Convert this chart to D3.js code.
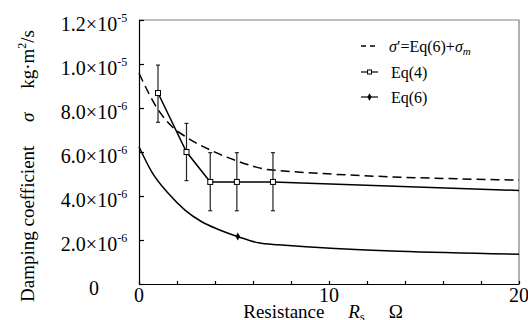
<!DOCTYPE html>
<html>
<head>
<meta charset="utf-8">
<script src="https://cdn.jsdelivr.net/npm/d3@7/dist/d3.min.js"></script>
<style>
  body { margin: 0; background: #fff; }
  svg, svg text { font-family: "Liberation Serif", "DejaVu Serif", serif; }
</style>
</head>
<body>
<svg id="chart"></svg>
<script>
// values in units of 1e-6 kg·m²/s
const yTicks = [0, 2, 4, 6, 8, 10, 12];
const yTickMant = ["0", "2.0", "4.0", "6.0", "8.0", "1.0", "1.2"];
const yTickExp = ["", "-6", "-6", "-6", "-6", "-5", "-5"];
const xTicks = [0, 2, 4, 6, 8, 10, 12, 14, 16, 18, 20];
const xLabels = [0, 10, 20];

// Eq(6) curve
const eq6R = [0, 0.67, 1.54, 2.42, 3.3, 4.18, 5.23, 6.28, 7.33, 20];
const eq6Val = [6.24, 5.1, 4.12, 3.36, 2.83, 2.48, 2.15, 1.87, 1.78, 1.35];
const eq6MarkR = [5.2];
const eq6MarkVal = [2.16];

// sigma' = Eq(6) + sigma_m (dashed)
const sigR = [0, 1, 1.8, 2.5, 3.75, 5.2, 7, 20];
const sigVal = [9.58, 7.93, 7.1, 6.67, 6.09, 5.58, 5.18, 4.72];

// Eq(4) measured, with error bars
const eq4R = [1, 2.5, 3.75, 5.15, 7.05];
const eq4Val = [8.68, 6.0, 4.64, 4.64, 4.64];
const eq4Hi = [9.95, 7.3, 5.97, 5.97, 5.97];
const eq4Lo = [7.35, 4.7, 3.33, 3.33, 3.33];
const eq4EndR = 20, eq4EndVal = 4.25;

const svg = d3.select("#chart").attr("width", 528).attr("height", 320);
const margin = {top: 20, right: 9, bottom: 36, left: 139},
    width = 528 - margin.left - margin.right,
    height = 320 - margin.top - margin.bottom;

const x = d3.scaleLinear().domain([0, 20]).range([margin.left, margin.left + width]);
const y = d3.scaleLinear().domain([0, 12]).range([margin.top + height, margin.top]);

// frame top/right
svg.append("path")
    .attr("d", `M${x(0)},${y(12)}H${x(20)}V${y(0)}`)
    .attr("fill", "none").attr("stroke", "#808080").attr("stroke-width", 1.2);

// axes
svg.append("g")
    .attr("transform", `translate(0,${y(0)})`)
    .call(d3.axisBottom(x).tickValues(xTicks).tickSizeInner(-3).tickSizeOuter(0).tickFormat(""))
    .call(g => g.selectAll("path,line").attr("stroke", "#000").attr("stroke-width", 1.2));

svg.append("g")
    .attr("transform", `translate(${x(0)},0)`)
    .call(d3.axisLeft(y).tickValues(yTicks).tickSizeInner(-5).tickSizeOuter(0).tickFormat(""))
    .call(g => g.selectAll("path,line").attr("stroke", "#000").attr("stroke-width", 1.2));

// y tick labels with superscripts
yTicks.forEach((v, i) => {
    let t = svg.append("text")
        .attr("x", 94).attr("y", y(v) + 11)
        .attr("text-anchor", "middle")
        .attr("font-size", 20);
    if (yTickExp[i] === "") {
        t.text(yTickMant[i]);
    } else {
        t.append("tspan").text(yTickMant[i] + "\u00d7" + "10");
        t.append("tspan").attr("font-size", 12).attr("dy", -9).text(yTickExp[i]);
    }
});

// x tick labels
xLabels.forEach(v => {
    svg.append("text")
        .attr("x", x(v)).attr("y", 302)
        .attr("text-anchor", "middle")
        .attr("font-size", 20)
        .text(v);
});

// axis titles
let xt = svg.append("text")
    .attr("x", 323).attr("y", 318)
    .attr("text-anchor", "middle")
    .attr("font-size", 19);
xt.append("tspan").text("Resistance\u2003 ");
xt.append("tspan").attr("font-style", "italic").text("R");
xt.append("tspan").attr("font-size", 13).attr("dy", 3).text("s");
xt.append("tspan").attr("dy", -3).text("\u2003 \u03a9");

let yt = svg.append("text")
    .attr("transform", "translate(34,166) rotate(-90)")
    .attr("text-anchor", "middle")
    .attr("font-size", 19);
yt.append("tspan").text("Damping coefficient\u2003 ");
yt.append("tspan").attr("font-style", "italic").text("\u03c3");
yt.append("tspan").text("\u2003 kg\u00b7m");
yt.append("tspan").attr("font-size", 12).attr("dy", -8).text("2");
yt.append("tspan").attr("dy", 8).text("/s");

// lines
const eq6Line = d3.line().x((d, i) => x(eq6R[i])).y(d => y(d)).curve(d3.curveMonotoneX);
svg.append("path").datum(eq6Val)
    .attr("fill", "none").attr("stroke", "#000").attr("stroke-width", 1.5)
    .attr("d", eq6Line);

const sigLine = d3.line().x((d, i) => x(sigR[i])).y(d => y(d)).curve(d3.curveMonotoneX);
svg.append("path").datum(sigVal)
    .attr("fill", "none").attr("stroke", "#000").attr("stroke-width", 1.5)
    .attr("stroke-dasharray", "9,5")
    .attr("d", sigLine);

const eq4Pts = eq4R.map((r, i) => [r, eq4Val[i]]).concat([[eq4EndR, eq4EndVal]]);
svg.append("path").datum(eq4Pts)
    .attr("fill", "none").attr("stroke", "#000").attr("stroke-width", 1.5)
    .attr("d", d3.line().x(d => x(d[0])).y(d => y(d[1])));

// error bars
eq4R.forEach((r, i) => {
    let g = svg.append("g").attr("stroke", "#222").attr("stroke-width", 1.2);
    g.append("line").attr("x1", x(r)).attr("x2", x(r)).attr("y1", y(eq4Hi[i])).attr("y2", y(eq4Lo[i]));
    g.append("line").attr("x1", x(r) - 2).attr("x2", x(r) + 2).attr("y1", y(eq4Hi[i])).attr("y2", y(eq4Hi[i]));
    g.append("line").attr("x1", x(r) - 2).attr("x2", x(r) + 2).attr("y1", y(eq4Lo[i])).attr("y2", y(eq4Lo[i]));
});

// markers
svg.selectAll(".sq").data(eq4R).join("rect")
    .attr("x", d => x(d) - 2.5).attr("y", (d, i) => y(eq4Val[i]) - 2.5)
    .attr("width", 5).attr("height", 5)
    .attr("fill", "#fff").attr("stroke", "#000").attr("stroke-width", 1);

svg.selectAll(".dm").data(eq6MarkR).join("path")
    .attr("transform", (d, i) => `translate(${x(d)},${y(eq6MarkVal[i])})`)
    .attr("d", d3.symbol(d3.symbolDiamond, 18))
    .attr("fill", "#000");

// legend
const lg = svg.append("g");
const rows = [46, 72, 97];
lg.append("line").attr("x1", 361).attr("x2", 378).attr("y1", rows[0]).attr("y2", rows[0])
    .attr("stroke", "#000").attr("stroke-width", 1.5).attr("stroke-dasharray", "5,4");
lg.append("line").attr("x1", 361).attr("x2", 378).attr("y1", rows[1]).attr("y2", rows[1])
    .attr("stroke", "#000").attr("stroke-width", 1.2);
lg.append("rect").attr("x", 369.5 - 2).attr("y", rows[1] - 2).attr("width", 4).attr("height", 4)
    .attr("fill", "#fff").attr("stroke", "#000");
lg.append("line").attr("x1", 361).attr("x2", 378).attr("y1", rows[2]).attr("y2", rows[2])
    .attr("stroke", "#000").attr("stroke-width", 1.2);
lg.append("path").attr("transform", `translate(369.5,${rows[2]})`)
    .attr("d", d3.symbol(d3.symbolDiamond, 16)).attr("fill", "#000");

let l1 = lg.append("text").attr("x", 389).attr("y", rows[0] + 6).attr("font-size", 16);
l1.append("tspan").attr("font-style", "italic").text("\u03c3");
l1.append("tspan").text("\u2032=Eq(6)+");
l1.append("tspan").attr("font-style", "italic").text("\u03c3");
l1.append("tspan").attr("font-style", "italic").attr("font-size", 11).attr("dy", 3).text("m");
lg.append("text").attr("x", 391).attr("y", rows[1] + 6).attr("font-size", 16).text("Eq(4)");
lg.append("text").attr("x", 391).attr("y", rows[2] + 6).attr("font-size", 16).text("Eq(6)");
</script>
</body>
</html>
